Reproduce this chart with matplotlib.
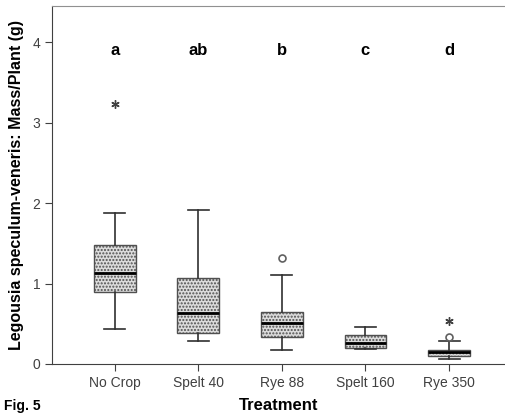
import numpy as np
import matplotlib.pyplot as plt

plt.rcParams['font.family'] = ['Liberation Sans', 'DejaVu Sans']
plt.rcParams['hatch.color'] = '#9a9a9a'

# Данные
treatments = ['No Crop', 'Spelt 40', 'Rye 88', 'Spelt 160', 'Rye 350']
whislo = [0.43, 0.28, 0.18, 0.19, 0.06]
q1 = [0.90, 0.38, 0.33, 0.195, 0.10]
med = [1.13, 0.63, 0.505, 0.265, 0.145]
q3 = [1.48, 1.07, 0.65, 0.36, 0.18]
whishi = [1.88, 1.91, 1.105, 0.46, 0.28]
letters = ['a', 'ab', 'b', 'c', 'd']

# Выбросы: кружки и звёздочки
circle_x = [3, 5]
circle_y = [1.32, 0.34]
star_x = [1, 5]
star_y = [3.23, 0.53]

stats = []
for i in range(len(treatments)):
    stats.append(dict(label=treatments[i], whislo=whislo[i], q1=q1[i], med=med[i],
                      q3=q3[i], whishi=whishi[i], fliers=[]))

fig = plt.figure(figsize=(5.06, 4.18), dpi=100)
ax = fig.add_axes([0.1028, 0.1292, 0.897, 0.8565])

pos = np.arange(1, len(treatments) + 1)
bp = ax.bxp(stats, positions=pos, widths=0.5, patch_artist=True, showfliers=False,
            boxprops=dict(facecolor='#dcdcdc', edgecolor='#505050', linewidth=1.0, hatch='.....'),
            medianprops=dict(color='black', linewidth=2),
            whiskerprops=dict(color='#303030', linewidth=1.2),
            capprops=dict(color='#303030', linewidth=1.2))

ax.plot(circle_x, circle_y, 'o', mfc='white', mec='#606060', ms=5, mew=1.2, ls='none')
ax.plot(star_x, star_y, marker=(6, 2, 0), color='#404040', ms=6, mew=1.0, ls='none')

for p, t in zip(pos, letters):
    ax.text(p, 3.9, t, ha='center', va='center', fontsize=12, fontweight='bold')

ax.set_xlim(0.25, 5.68)
ax.set_ylim(0, 4.45)
ax.set_yticks([0, 1, 2, 3, 4])
ax.set_xticks(pos)
ax.set_xticklabels(treatments)
ax.tick_params(colors='#404040', labelcolor='#404040', labelsize=10, length=5)

ax.spines['right'].set_visible(False)
ax.spines['top'].set_color('#909090')
ax.spines['left'].set_color('#404040')
ax.spines['bottom'].set_color('#404040')

ax.set_xlabel('Treatment', fontsize=12, fontweight='bold', labelpad=6)
ax.set_ylabel('Legousia speculum-veneris: Mass/Plant (g)', fontsize=11.5, fontweight='bold', labelpad=6)
fig.text(0.008, 0.02, 'Fig. 5', fontsize=10, fontweight='bold')

fig.savefig('out.png', dpi=100)
